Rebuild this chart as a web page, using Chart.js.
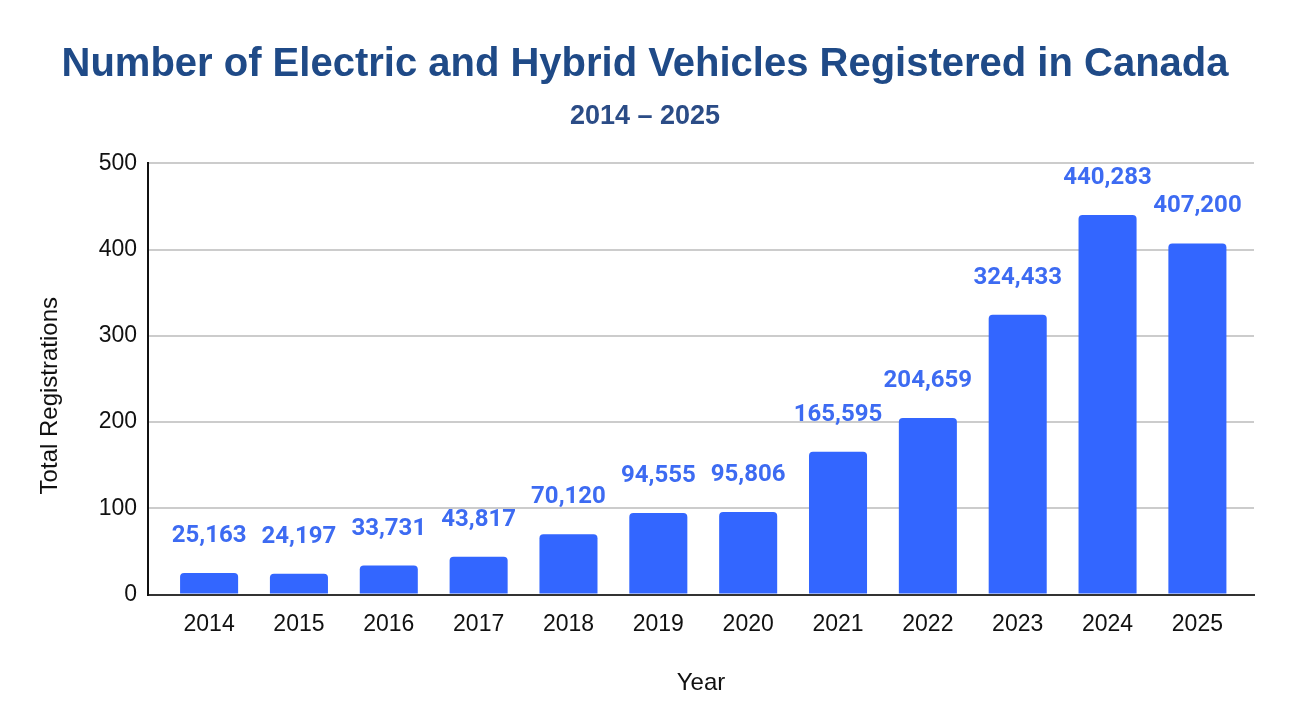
<!DOCTYPE html>
<html>
<head>
<meta charset="utf-8">
<script src="https://cdn.jsdelivr.net/npm/chart.js@4/dist/chart.umd.min.js"></script>
<style>
  html, body { margin: 0; padding: 0; background: #fff; }
  #wrap { width: 1292px; height: 728px; }
</style>
</head>
<body>
<div id="wrap"><canvas id="chart"></canvas></div>
<script>
// data
var years = ['2014', '2015', '2016', '2017', '2018', '2019', '2020', '2021', '2022', '2023', '2024', '2025'];
var registrations = [25163, 24197, 33731, 43817, 70120, 94555, 95806, 165595, 204659, 324433, 440283, 407200];
var yTicks = [0, 100, 200, 300, 400, 500];

//draws the number above every bar
var barLabels = {
    id: 'barLabels',
    afterDatasetsDraw: function(chart) {
        var ctx = chart.ctx;
        var meta = chart.getDatasetMeta(0);
        ctx.save();
        ctx.font = 'bold 24px Roboto';
        ctx.fillStyle = '#3d6bf2';
        ctx.textAlign = 'center';
        ctx.textBaseline = 'middle';
        meta.data.forEach(function(bar, i) {
            ctx.fillText(registrations[i].toLocaleString('en-US'), bar.x, bar.y - 37);
        });
        ctx.restore();
    }
};

var font = 'Liberation Sans';

new Chart(document.getElementById('chart'), {
    type: 'bar',
    data: {
        datasets: [{
            data: years.map(function(y, i) { return { x: i, y: registrations[i] / 1000 }; }),
            backgroundColor: '#3366ff',
            borderRadius: { topLeft: 4, topRight: 4 },
            borderSkipped: 'bottom',
            barPercentage: 0.646,
            categoryPercentage: 1
        }]
    },
    options: {
        responsive: true,
        maintainAspectRatio: false,
        animation: false,
        devicePixelRatio: 1,
        layout: { padding: { left: 36, right: 38, bottom: 30, top: 0 } },
        plugins: {
            legend: { display: false },
            tooltip: { enabled: false },
            title: {
                display: true,
                text: 'Number of Electric and Hybrid Vehicles Registered in Canada',
                color: '#1f4a87',
                font: { family: font, size: 40, weight: 'bold' },
                padding: { top: 41, bottom: 6 }
            },
            subtitle: {
                display: true,
                text: '2014 \u2013 2025',
                color: '#2b4c86',
                font: { family: font, size: 27, weight: 'bold' },
                padding: { top: 5, bottom: 31 }
            }
        },
        scales: {
            x: {
                type: 'linear',
                min: -0.68,
                max: 11.63,
                offset: false,
                afterBuildTicks: function(scale) {
                    scale.ticks = years.map(function(y, i) { return { value: i }; });
                },
                grid: { display: false, drawTicks: false },
                border: { color: '#333', width: 2 },
                ticks: {
                    color: '#111',
                    padding: 16,
                    maxRotation: 0,
                    autoSkip: false,
                    font: { family: font, size: 23 },
                    callback: function(v) { return years[v]; }
                },
                title: {
                    display: true,
                    text: 'Year',
                    color: '#111',
                    font: { family: font, size: 24 },
                    padding: { top: 15, bottom: 0 }
                }
            },
            y: {
                min: 0,
                max: 500,
                afterBuildTicks: function(scale) {
                    scale.ticks = yTicks.map(function(v) { return { value: v }; });
                },
                afterFit: function(scale) { scale.width = 112; },
                grid: { color: '#cccccc', lineWidth: 2, drawTicks: false },
                border: { color: '#111', width: 2 },
                ticks: { color: '#111', padding: 11, font: { family: font, size: 23 } },
                title: {
                    display: true,
                    text: 'Total Registrations\u00a0\u00a0\u00a0\u00a0\u00a0',
                    color: '#111',
                    font: { family: font, size: 24 },
                    padding: 0
                }
            }
        }
    },
    plugins: [barLabels]
});
</script>
</body>
</html>
